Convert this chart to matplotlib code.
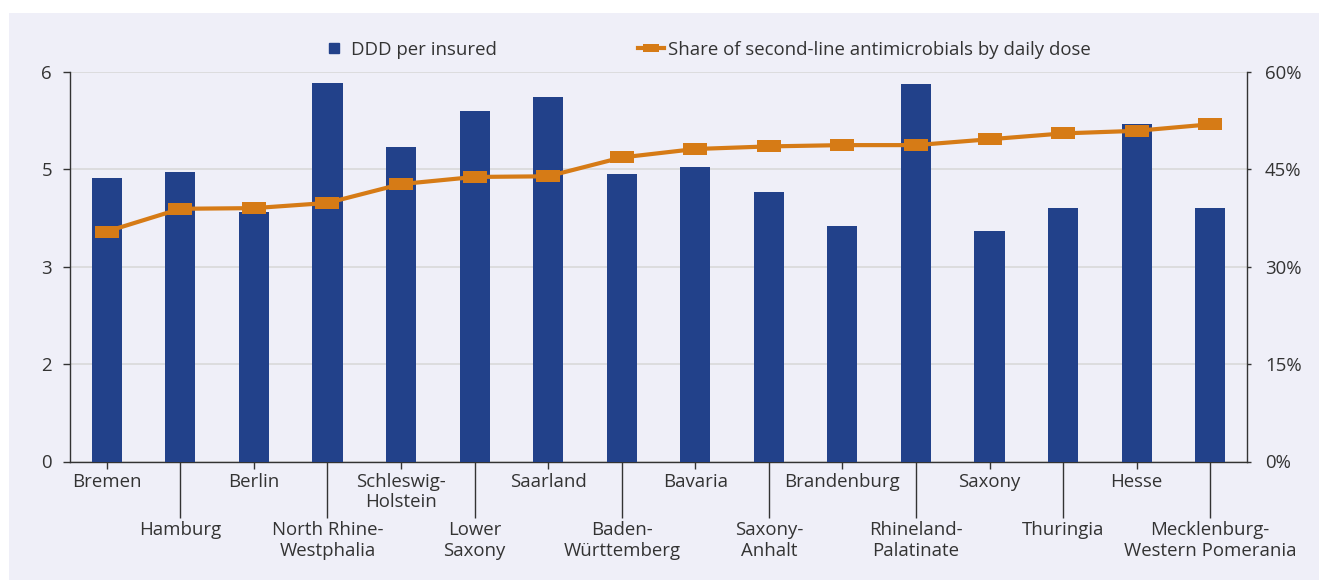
import matplotlib
matplotlib.use("Agg")
import matplotlib.pyplot as plt
from matplotlib.lines import Line2D
from matplotlib.patches import Rectangle
from matplotlib.path import Path
from matplotlib.ticker import FuncFormatter

plt.rcParams["font.family"] = ["Open Sans", "DejaVu Sans"]

STATES = [
    "Bremen", "Hamburg", "Berlin", "North Rhine-\nWestphalia", "Schleswig-\nHolstein",
    "Lower\nSaxony", "Saarland", "Baden-\nWürttemberg", "Bavaria", "Saxony-\nAnhalt",
    "Brandenburg", "Rhineland-\nPalatinate", "Saxony", "Thuringia", "Hesse",
    "Mecklenburg-\nWestern Pomerania",
]
DDD = [4.37, 4.46, 3.84, 5.83, 4.84, 5.39, 5.61, 4.43, 4.53, 4.15,
       3.62, 5.81, 3.55, 3.90, 5.19, 3.90]
SHARE = [35.4, 38.9, 39.0, 39.8, 42.7, 43.8, 43.9, 46.8, 48.1, 48.5,
         48.7, 48.7, 49.6, 50.5, 50.9, 51.9]

LEFT_TICKS = [0, 1.5, 3, 4.5, 6]
LEFT_LABELS = ["0", "2", "3", "5", "6"]
RIGHT_TICKS = [0, 15, 30, 45, 60]

BLUE = "#22418a"
ORANGE = "#d67b16"
BG = "#efeff8"
TXT = "#333333"
FS = 13.4

fig = plt.figure(figsize=(13.19, 5.8), dpi=100)
fig.patch.set_facecolor("white")
fig.patches.append(Rectangle((9 / 1319, 0), 1, 1 - 13 / 580, transform=fig.transFigure,
                             facecolor=BG, edgecolor="none", zorder=-10))

ax = fig.add_axes([70 / 1319, 1 - 461.5 / 580, (1247 - 70) / 1319, (461.5 - 71.7) / 580])
ax.set_facecolor("none")
x = list(range(len(STATES)))
ax.bar(x, DDD, width=0.41, color=BLUE, zorder=3)
ax.set_xlim(-0.5, len(STATES) - 0.5)
ax.set_ylim(0, 6)
ax.set_yticks(LEFT_TICKS)
ax.set_yticklabels(LEFT_LABELS)
ax.yaxis.grid(True, color="#d9d9d9", linewidth=1.2, zorder=0)
ax.set_axisbelow(True)

# alternating category labels: even -> upper row with short tick, odd -> lower row with long tick
ax.set_xticks(x[0::2])
ax.set_xticklabels(STATES[0::2])
ax.set_xticks(x[1::2], minor=True)
ax.set_xticklabels(STATES[1::2], minor=True)
ax.tick_params(axis="x", which="major", length=5, width=1, color=TXT, pad=3,
               labelsize=FS, labelcolor=TXT)
ax.tick_params(axis="x", which="minor", length=40, width=1, color=TXT, pad=3,
               labelsize=FS, labelcolor=TXT)
ax.tick_params(axis="y", length=5, width=1, color=TXT, pad=8, labelsize=FS, labelcolor=TXT)
for s in ["top", "right"]:
    ax.spines[s].set_visible(False)
for s in ["left", "bottom"]:
    ax.spines[s].set_color(TXT)
    ax.spines[s].set_linewidth(1)

ax2 = ax.twinx()
rect = Path([(-1, -0.5), (1, -0.5), (1, 0.5), (-1, 0.5), (-1, -0.5)],
            [Path.MOVETO, Path.LINETO, Path.LINETO, Path.LINETO, Path.CLOSEPOLY])
ax2.plot(x, SHARE, color=ORANGE, linewidth=3, marker=rect, markersize=17,
         markeredgewidth=0, zorder=4)
ax2.set_ylim(0, 60)
ax2.set_yticks(RIGHT_TICKS)
ax2.yaxis.set_major_formatter(FuncFormatter(lambda v, p: f"{v:.0f}%"))
ax2.tick_params(axis="y", length=3, width=1, color=TXT, pad=10, labelsize=FS, labelcolor=TXT)
for s in ["top", "left", "bottom"]:
    ax2.spines[s].set_visible(False)
ax2.spines["right"].set_color(TXT)
ax2.spines["right"].set_linewidth(1)

handles = [
    Line2D([], [], marker="s", linestyle="none", color=BLUE, markersize=7.5),
    Line2D([], [], color=ORANGE, linewidth=3, marker=rect, markersize=11, markeredgewidth=0),
]
fig.legend(handles, ["DDD per insured", "Share of second-line antimicrobials by daily dose"],
           loc="center", bbox_to_anchor=(0.535, 1 - 50 / 580), ncol=2, frameon=False,
           fontsize=FS, labelcolor=TXT, handlelength=1.4, handletextpad=0.2,
           columnspacing=7.6)

fig.savefig("out.png", dpi=100)
